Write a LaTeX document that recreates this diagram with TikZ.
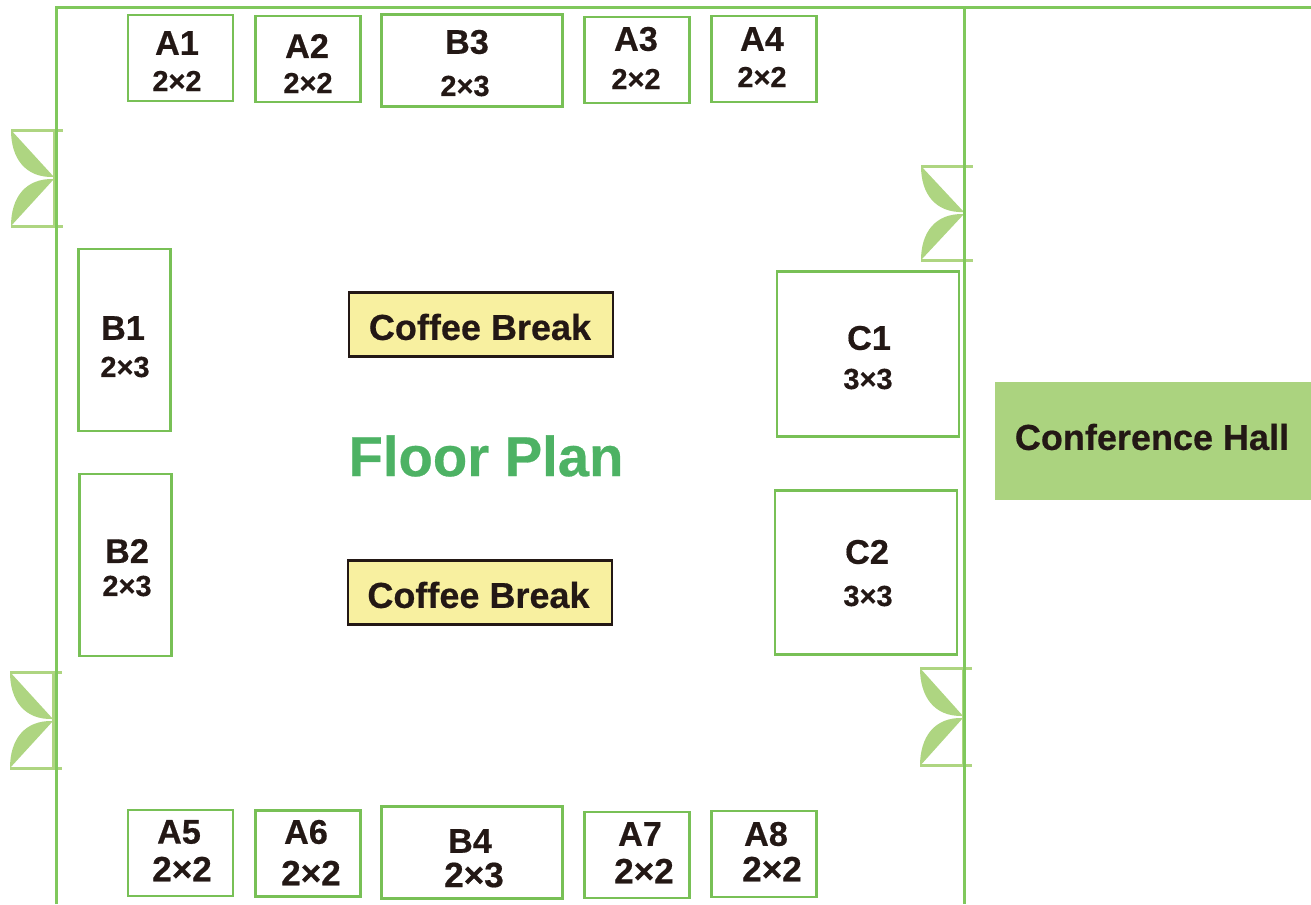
\documentclass[tikz,border=0pt]{standalone}
\usepackage{fontspec}
\setmainfont{Liberation Sans}[BoldFeatures={FakeBold=0.5}]
\definecolor{wallgreen}{HTML}{80C85C}
\definecolor{doorgreen}{HTML}{AED581}
\definecolor{boothgreen}{HTML}{78C056}
\definecolor{titlegreen}{HTML}{4DB264}
\definecolor{hallgreen}{HTML}{ABD37F}
\definecolor{coffeeyellow}{HTML}{F8F0A0}
\definecolor{inkblack}{HTML}{231815}
\tikzset{
	wall/.style={draw=wallgreen, line width=0.06cm},
	% booths, all sizes as in the plan
	booth/.style={draw=boothgreen, line width=0.055cm, inner sep=0pt},
	boothA/.style={booth, minimum width=2.1cm, minimum height=1.72cm},
	boothW/.style={booth, minimum width=3.62cm, minimum height=1.84cm},
	boothT/.style={booth, minimum width=1.84cm, minimum height=3.64cm},
	boothC/.style={booth, minimum width=3.64cm, minimum height=3.29cm},
	coffee/.style={draw=inkblack, line width=0.05cm, fill=coffeeyellow, minimum width=5.28cm, minimum height=1.28cm, inner sep=0pt},
	coffeename/.style={text=inkblack, inner sep=0pt, font=\fontsize{20.5}{24}\selectfont\bfseries},
	hall/.style={fill=hallgreen, minimum width=6.32cm, minimum height=2.36cm, inner sep=0pt},
	hallname/.style={text=inkblack, inner sep=0pt, font=\fontsize{20.5}{24}\selectfont\bfseries},
	title/.style={text=titlegreen, inner sep=0pt, font=\fontsize{32}{38}\selectfont\bfseries},
	boothname/.style={text=inkblack, inner sep=0pt, font=\fontsize{19.5}{24}\selectfont\bfseries},
	boothsize/.style={text=inkblack, inner sep=0pt, font=\fontsize{16.5}{20}\selectfont\bfseries},
	boothsizeL/.style={text=inkblack, inner sep=0pt, font=\fontsize{20}{22}\selectfont\bfseries},
	% door: frame with two leaves, origin at top left of the frame
	pics/door/.style={code={
		\fill[doorgreen] (0,0) -- (43,47) .. controls (14,48) and (0,28) .. (0,0);
		\fill[doorgreen] (0,96) -- (43,49) .. controls (14,48) and (0,68) .. (0,96);
		\draw[doorgreen, line width=0.06cm] (0,0) -- (52,0);
		\draw[doorgreen, line width=0.06cm] (0,96) -- (52,96);
		\draw[doorgreen, line width=0.06cm] (43,0) -- (43,96);
	}},
}
\begin{document}
\begin{tikzpicture}[x=0.02cm, y=-0.02cm]
	\useasboundingbox (0,0) rectangle (1311,904);
	
	% doors first, walls run over them
	\pic at (11,130) {door};
	\pic at (921,166) [yscale=0.98] {door};
	\pic at (10,672) {door};
	\pic at (920,668) [yscale=1.02] {door};
	
	\draw[wall] (56,904) -- (56,7) -- (1311,7);
	\draw[wall] (964,7) -- (964,904);
	
	% top row
	\node (a1) [boothA] at (180.5,58) {};
	\node (a2) [boothA] at (308,59) {};
	\node (b3) [boothW] at (472,60.5) {};
	\node (a3) [boothA] at (637,60) {};
	\node (a4) [boothA] at (764,59) {};
	
	\node (a1n) [boothname] at (177,43) {A1};
	\node (a1s) [boothsize] at (177,81) {2×2};
	\node (a2n) [boothname] at (307,46) {A2};
	\node (a2s) [boothsize] at (308,83) {2×2};
	\node (b3n) [boothname] at (467,42) {B3};
	\node (b3s) [boothsize] at (465,86) {2×3};
	\node (a3n) [boothname] at (636,39) {A3};
	\node (a3s) [boothsize] at (636,79) {2×2};
	\node (a4n) [boothname] at (762,39) {A4};
	\node (a4s) [boothsize] at (762,77) {2×2};
	
	% left side
	\node (b1) [boothT] at (124.5,340) {};
	\node (b2) [boothT] at (125.5,565) {};
	\node (b1n) [boothname] at (123,328) {B1};
	\node (b1s) [boothsize] at (125,367) {2×3};
	\node (b2n) [boothname] at (127,551) {B2};
	\node (b2s) [boothsize] at (127,586) {2×3};
	
	% right side
	\node (c1) [boothC] at (868,354) {};
	\node (c2) [boothC] at (866,572.5) {};
	\node (c1n) [boothname] at (869,338) {C1};
	\node (c1s) [boothsize] at (868,379) {3×3};
	\node (c2n) [boothname] at (867,552) {C2};
	\node (c2s) [boothsize] at (868,596) {3×3};
	
	% bottom row
	\node (a5) [boothA] at (180.5,853) {};
	\node (a6) [boothA] at (308,853.5) {};
	\node (b4) [boothW] at (472,852.5) {};
	\node (a7) [boothA] at (637,855) {};
	\node (a8) [boothA] at (764,854) {};
	
	\node (a5n) [boothname] at (179,832) {A5};
	\node (a5s) [boothsizeL] at (182,869) {2×2};
	\node (a6n) [boothname] at (306,832) {A6};
	\node (a6s) [boothsizeL] at (311,873) {2×2};
	\node (b4n) [boothname] at (470,841) {B4};
	\node (b4s) [boothsizeL] at (474,875) {2×3};
	\node (a7n) [boothname] at (640,834) {A7};
	\node (a7s) [boothsizeL] at (644,871) {2×2};
	\node (a8n) [boothname] at (766,834) {A8};
	\node (a8s) [boothsizeL] at (772,869) {2×2};
	
	% middle
	\node (cb1) [coffee] at (481,324.5) {};
	\node (cb2) [coffee] at (480,592.5) {};
	\node (cb1n) [coffeename] at (480,327) {Coffee Break};
	\node (cb2n) [coffeename] at (478.5,595) {Coffee Break};
	\node (plan) [title] at (486,456) {Floor Plan};
	
	\node (hallbox) [hall] at (1153,441) {};
	\node (hallname) [hallname] at (1152,437) {Conference Hall};
\end{tikzpicture}
\end{document}
